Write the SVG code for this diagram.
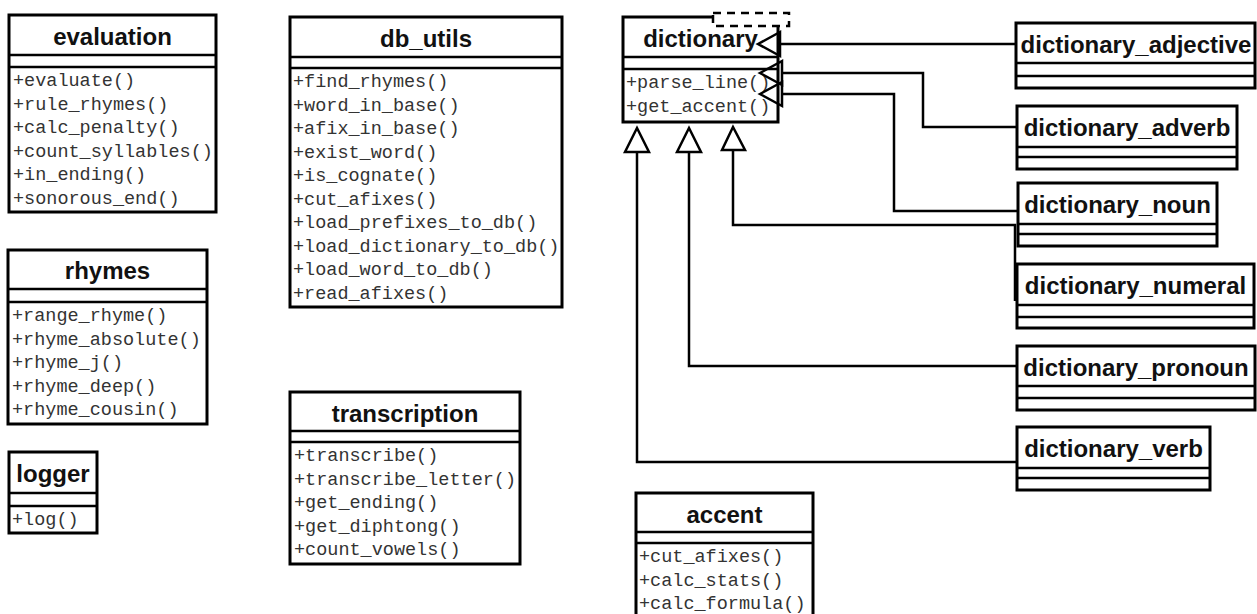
<svg xmlns="http://www.w3.org/2000/svg" width="1257" height="614" viewBox="0 0 1257 614">
<style>
.box{fill:#fff;stroke:#000;stroke-width:3}
.dv{stroke:#000;stroke-width:2.5}
.t{font-family:"Liberation Sans",Arial,sans-serif;font-weight:bold;font-size:24px;text-anchor:middle;fill:#111}
.m{font-family:"Liberation Mono","Courier New",monospace;font-size:18.5px;fill:#333}
.c{fill:none;stroke:#000;stroke-width:2.5}
.tri{fill:none;stroke:#000;stroke-width:2.5;stroke-linejoin:miter}
.dash{fill:#fff;stroke:#000;stroke-width:2.5;stroke-dasharray:8 6}
</style>
<rect width="1257" height="614" fill="#fff"/>

<g id="evaluation">
<rect class="box" x="9" y="15" width="207" height="197"/>
<line class="dv" x1="9" y1="55" x2="216" y2="55"/>
<line class="dv" x1="9" y1="67" x2="216" y2="67"/>
<text class="t" x="112.5" y="44.5">evaluation</text>
<text class="m" x="13" y="86">+evaluate()</text>
<text class="m" x="13" y="109.5">+rule_rhymes()</text>
<text class="m" x="13" y="133">+calc_penalty()</text>
<text class="m" x="13" y="156.5">+count_syllables()</text>
<text class="m" x="13" y="180">+in_ending()</text>
<text class="m" x="13" y="203.5">+sonorous_end()</text>
</g>

<g id="db_utils">
<rect class="box" x="290" y="17" width="272" height="290"/>
<line class="dv" x1="290" y1="57" x2="562" y2="57"/>
<line class="dv" x1="290" y1="68" x2="562" y2="68"/>
<text class="t" x="426" y="46.5">db_utils</text>
<text class="m" x="293" y="87">+find_rhymes()</text>
<text class="m" x="293" y="110.5">+word_in_base()</text>
<text class="m" x="293" y="134">+afix_in_base()</text>
<text class="m" x="293" y="157.5">+exist_word()</text>
<text class="m" x="293" y="181">+is_cognate()</text>
<text class="m" x="293" y="204.5">+cut_afixes()</text>
<text class="m" x="293" y="228">+load_prefixes_to_db()</text>
<text class="m" x="293" y="251.5">+load_dictionary_to_db()</text>
<text class="m" x="293" y="275">+load_word_to_db()</text>
<text class="m" x="293" y="298.5">+read_afixes()</text>
</g>

<g id="rhymes">
<rect class="box" x="8" y="250" width="199" height="174"/>
<line class="dv" x1="8" y1="289" x2="207" y2="289"/>
<line class="dv" x1="8" y1="302" x2="207" y2="302"/>
<text class="t" x="107.5" y="279">rhymes</text>
<text class="m" x="12" y="321">+range_rhyme()</text>
<text class="m" x="12" y="344.5">+rhyme_absolute()</text>
<text class="m" x="12" y="368">+rhyme_j()</text>
<text class="m" x="12" y="391.5">+rhyme_deep()</text>
<text class="m" x="12" y="415">+rhyme_cousin()</text>
</g>

<g id="logger">
<rect class="box" x="9" y="452" width="88" height="81"/>
<line class="dv" x1="9" y1="493" x2="97" y2="493"/>
<line class="dv" x1="9" y1="506" x2="97" y2="506"/>
<text class="t" x="53" y="481.5">logger</text>
<text class="m" x="12" y="525">+log()</text>
</g>

<g id="transcription">
<rect class="box" x="290" y="392" width="230" height="172"/>
<line class="dv" x1="290" y1="431" x2="520" y2="431"/>
<line class="dv" x1="290" y1="442" x2="520" y2="442"/>
<text class="t" x="405" y="421.5">transcription</text>
<text class="m" x="294" y="461">+transcribe()</text>
<text class="m" x="294" y="484.5">+transcribe_letter()</text>
<text class="m" x="294" y="508">+get_ending()</text>
<text class="m" x="294" y="531.5">+get_diphtong()</text>
<text class="m" x="294" y="555">+count_vowels()</text>
</g>

<g id="accent">
<rect class="box" x="636" y="493" width="177" height="130"/>
<line class="dv" x1="636" y1="532" x2="813" y2="532"/>
<line class="dv" x1="636" y1="543" x2="813" y2="543"/>
<text class="t" x="724.5" y="522.5">accent</text>
<text class="m" x="639" y="562">+cut_afixes()</text>
<text class="m" x="639" y="585.5">+calc_stats()</text>
<text class="m" x="639" y="609">+calc_formula()</text>
</g>

<g id="dictionary">
<rect class="box" x="623" y="17" width="155" height="105"/>
<line class="dv" x1="623" y1="57" x2="778" y2="57"/>
<line class="dv" x1="623" y1="69" x2="778" y2="69"/>
<text class="t" x="700.5" y="46.5">dictionary</text>
<text class="m" x="626" y="88">+parse_line()</text>
<text class="m" x="626" y="111.5">+get_accent()</text>
<rect class="dash" x="713" y="13" width="76" height="13"/>
</g>

<g id="dictionary_adjective">
<rect class="box" x="1016" y="23" width="239" height="65"/>
<line class="dv" x1="1016" y1="63" x2="1255" y2="63"/>
<line class="dv" x1="1016" y1="76" x2="1255" y2="76"/>
<text class="t" x="1136" y="52.5">dictionary_adjective</text>
</g>

<g id="dictionary_adverb">
<rect class="box" x="1017" y="106" width="220" height="63"/>
<line class="dv" x1="1017" y1="147" x2="1237" y2="147"/>
<line class="dv" x1="1017" y1="157" x2="1237" y2="157"/>
<text class="t" x="1127" y="135.5">dictionary_adverb</text>
</g>

<g id="dictionary_noun">
<rect class="box" x="1018" y="183" width="199" height="63"/>
<line class="dv" x1="1018" y1="224" x2="1217" y2="224"/>
<line class="dv" x1="1018" y1="234" x2="1217" y2="234"/>
<text class="t" x="1117.5" y="212.5">dictionary_noun</text>
</g>

<g id="dictionary_numeral">
<rect class="box" x="1017" y="264" width="237" height="64"/>
<line class="dv" x1="1017" y1="305" x2="1254" y2="305"/>
<line class="dv" x1="1017" y1="317" x2="1254" y2="317"/>
<text class="t" x="1135.5" y="293.5">dictionary_numeral</text>
</g>

<g id="dictionary_pronoun">
<rect class="box" x="1017" y="346" width="238" height="64"/>
<line class="dv" x1="1017" y1="386" x2="1255" y2="386"/>
<line class="dv" x1="1017" y1="398" x2="1255" y2="398"/>
<text class="t" x="1136" y="375.5">dictionary_pronoun</text>
</g>

<g id="dictionary_verb">
<rect class="box" x="1017" y="427" width="193" height="63"/>
<line class="dv" x1="1017" y1="468" x2="1210" y2="468"/>
<line class="dv" x1="1017" y1="478" x2="1210" y2="478"/>
<text class="t" x="1113.5" y="456.5">dictionary_verb</text>
</g>

<g id="connectors">
<path class="c" d="M780,44 H1016"/>
<polygon class="tri" points="758,44 780,32 780,56"/>
<path class="c" d="M782,73 H923 V127 H1017"/>
<polygon class="tri" points="760,73 782,61 782,85"/>
<path class="c" d="M782,94 H894 V211 H1018"/>
<polygon class="tri" points="760,94 782,82 782,106"/>
<path class="c" d="M733,150 V225 H1015 V301"/>
<polygon class="tri" points="733,127 722,150 745,150"/>
<path class="c" d="M689,152 V366 H1017"/>
<polygon class="tri" points="689,128 677,152 701,152"/>
<path class="c" d="M637,152 V462 H1017"/>
<polygon class="tri" points="637,128 625,152 649,152"/>
</g>
</svg>
